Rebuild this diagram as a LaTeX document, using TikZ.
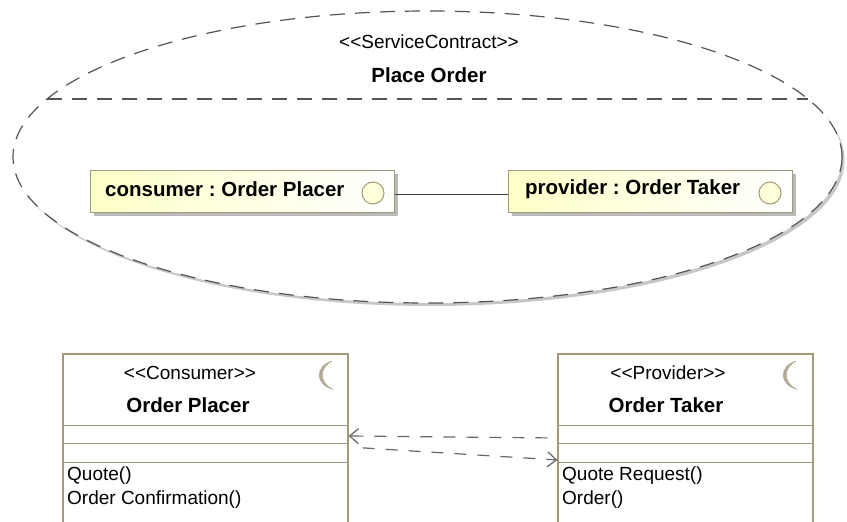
\documentclass[tikz,border=0pt]{standalone}
\usepackage{fontspec}
\setmainfont{Liberation Sans}
\usetikzlibrary{shapes.geometric,shadows,arrows.meta}
\definecolor{dashgray}{RGB}{85,85,85}
\definecolor{tanline}{RGB}{160,154,122}
\definecolor{paleyellow}{RGB}{255,255,200}
\definecolor{moongray}{RGB}{175,170,145}
\frenchspacing
\tikzset{
  stereo/.style={font=\fontsize{19}{22}\selectfont, inner sep=0pt},
  bname/.style={font=\fontsize{20.5}{24}\selectfont\bfseries, inner sep=0pt},
  opstext/.style={font=\fontsize{19}{23.5}\selectfont, inner sep=0pt, anchor=north west, align=left},
  partbox/.style={draw=tanline, line width=1pt, rectangle, inner sep=0pt,
     minimum height=42pt, shading=axis, left color=paleyellow, right color=white,
     drop shadow={shadow xshift=4pt, shadow yshift=-4pt, fill=black!45, opacity=0.6}},
  portcirc/.style={circle, draw=tanline, line width=1pt, fill=paleyellow!70, minimum size=22pt, inner sep=0pt},
  classbox/.style={draw=tanline, line width=1.3pt, rectangle, inner sep=0pt, fill=white},
  sepline/.style={draw=tanline, line width=1pt},
  dep/.style={draw=dashgray!90, line width=1.2pt, dash pattern=on 12pt off 11pt,
     -{Straight Barb[length=9pt,width=15pt,line width=1.2pt]}},
  moonshape/.style={fill=moongray, draw=moongray, line width=0.5pt},
  contractline/.style={dashgray, line width=1.2pt, dash pattern=on 15pt off 10pt},
}
\begin{document}
\begin{tikzpicture}[x=1pt,y=-1pt]
\useasboundingbox (0,0) rectangle (847,522);
% ---- service contract ellipse
\fill[black!22] (430,160) ellipse [x radius=414.5, y radius=146];
\node[ellipse, fill=white, minimum width=829pt, minimum height=292pt, inner sep=0pt] (contract) at (427.5,157) {};
\draw[contractline] (427.5,157) ellipse [x radius=414.5, y radius=146];
\coordinate (sepL) at (47,99);
\coordinate (sepR) at (808,99);
\draw[contractline] (sepL) -- (sepR);
\node[stereo] (cstereo) at (429,42) {{<}{<}ServiceContract{>}{>}};
\node[bname] (cname) at (429,75) {Place Order};
% ---- parts
\node[partbox, minimum width=304pt] (consumer) at (242,191) {};
\node[bname, anchor=west] (consumertxt) at (105,189) {consumer : Order Placer};
\node[portcirc] (cport) at (373,193) {};
\node[partbox, minimum width=284pt] (provider) at (650,191) {};
\node[bname, anchor=west] (providertxt) at (525,189) {provider : Order Taker};
\node[portcirc] (pport) at (770,193) {};
\draw[black!75, line width=1pt] ([yshift=-3pt]consumer.east) -- ([yshift=-3pt]provider.west);
% ---- class Order Placer
\node[classbox, minimum width=285pt, minimum height=190pt] (placer) at (205.5,449) {};
\draw[sepline] (placer.west |- 0,425) -- (placer.east |- 0,425);
\draw[sepline] (placer.west |- 0,443) -- (placer.east |- 0,443);
\draw[sepline] (placer.west |- 0,462) -- (placer.east |- 0,462);
\node[stereo] (pstereo) at (190,373) {{<}{<}Consumer{>}{>}};
\node[bname] (pname) at (188,405) {Order Placer};
\node[opstext] (pops) at (67,467) {Quote()\\Order Confirmation()};
\fill[moonshape] (332,361) .. controls (315,366) and (315,384) .. (332,389) .. controls (319,382) and (319,368) .. (332,361);
% ---- class Order Taker
\node[classbox, minimum width=255pt, minimum height=190pt] (taker) at (685.5,449) {};
\draw[sepline] (taker.west |- 0,425) -- (taker.east |- 0,425);
\draw[sepline] (taker.west |- 0,443) -- (taker.east |- 0,443);
\draw[sepline] (taker.west |- 0,462) -- (taker.east |- 0,462);
\node[stereo] (tstereo) at (668,373) {{<}{<}Provider{>}{>}};
\node[bname] (tname) at (666,405) {Order Taker};
\node[opstext] (tops) at (562,467) {Quote Request()\\Order()};
\fill[moonshape] (796,361) .. controls (779,366) and (779,384) .. (796,389) .. controls (783,382) and (783,368) .. (796,361);
% ---- dependencies
\draw[dep, shorten <=10pt] ([yshift=11pt]taker.west) -- ([yshift=13pt]placer.east);
\draw[dep, shorten <=14pt] ([yshift=2pt]placer.east) -- ([yshift=-11pt]taker.west);
\end{tikzpicture}
\end{document}
